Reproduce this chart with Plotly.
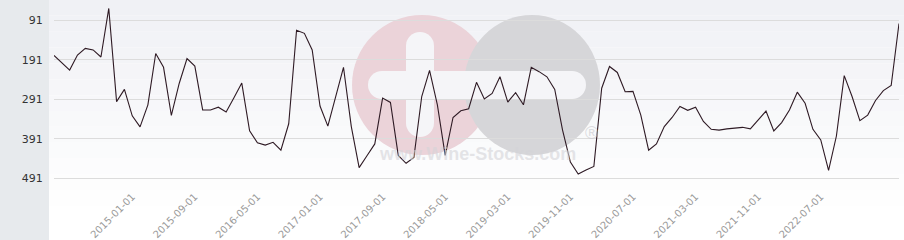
import plotly.graph_objects as go

# Rank values (lower is better), one per observation, left to right
ranks = [180, 198, 217, 179, 162, 166, 184, 61, 297, 266,
         333, 361, 305, 175, 210, 332, 251, 188, 207, 318,
         318, 311, 323, 287, 250, 371, 401, 407, 400, 420,
         353, 116, 124, 166, 308, 359, 286, 210, 360, 464,
         434, 404, 288, 299, 433, 453, 438, 284, 218, 305,
         433, 337, 320, 315, 248, 290, 276, 234, 298, 274,
         305, 210, 221, 234, 266, 369, 450, 480, 470, 461,
         263, 208, 223, 272, 271, 331, 420, 404, 360, 337,
         309, 319, 311, 347, 367, 369, 366, 364, 362, 366,
         342, 321, 371, 350, 318, 273, 301, 367, 394, 471,
         384, 231, 284, 345, 331, 294, 269, 256, 99]

tick_labels = ["2015-01-01", "2015-09-01", "2016-05-01", "2017-01-01",
               "2017-09-01", "2018-05-01", "2019-03-01", "2019-11-01",
               "2020-07-01", "2021-03-01", "2021-11-01", "2022-07-01"]
tick_positions = [10, 18, 26, 34, 42, 50, 58, 66, 74, 82, 90, 98]

y_ticks = [91, 191, 291, 391, 491]

idx = list(range(len(ranks)))

fig = go.Figure()
fig.add_trace(go.Scatter(x=idx, y=ranks, mode="lines",
                         line=dict(color="#2e1a24", width=1.1),
                         hoverinfo="skip", showlegend=False))

W, H = 904, 240
ml, mr, mt, mb = 54, 5, 0, 52
pw, ph = W - ml - mr, H - mt - mb

def px(x):
    return (x - ml) / pw

def py(y):
    return (H - mb - y) / ph

shapes = []
# gradient background of the chart area
n = 14
top, bot = 0, 222
c0 = (240, 241, 245)
for i in range(n):
    y0 = top + (bot - top) * i / n
    y1 = top + (bot - top) * (i + 1) / n
    t = i / (n - 1)
    c = tuple(int(round(c0[k] + (255 - c0[k]) * t)) for k in range(3))
    shapes.append(dict(type="rect", xref="paper", yref="paper",
                       x0=px(49), x1=px(W), y0=py(y1), y1=py(y0),
                       fillcolor="rgb(%d,%d,%d)" % c, line=dict(width=0), layer="below"))
# left grey panel
shapes.append(dict(type="rect", xref="paper", yref="paper",
                   x0=px(0), x1=px(49), y0=py(H), y1=py(0),
                   fillcolor="#e7eaed", line=dict(width=0), layer="below"))
# watermark
shapes.append(dict(type="circle", xref="paper", yref="paper",
                   x0=px(352), x1=px(492), y0=py(155), y1=py(15),
                   fillcolor="#ebd3d9", line=dict(width=0), layer="below"))
shapes.append(dict(type="circle", xref="paper", yref="paper",
                   x0=px(464), x1=px(600), y0=py(155), y1=py(15),
                   fillcolor="#d6d6d9", line=dict(width=0), layer="below"))
BAR = "#f5f5f8"
def pill(x0, x1, y0, y1):
    horiz = (x1 - x0) > (y1 - y0)
    r = min(x1 - x0, y1 - y0) / 2
    if horiz:
        shapes.append(dict(type="rect", xref="paper", yref="paper",
                           x0=px(x0 + r), x1=px(x1 - r), y0=py(y1), y1=py(y0),
                           fillcolor=BAR, line=dict(width=0), layer="below"))
        ends = [(x0, y0), (x1 - 2 * r, y0)]
    else:
        shapes.append(dict(type="rect", xref="paper", yref="paper",
                           x0=px(x0), x1=px(x1), y0=py(y1 - r), y1=py(y0 + r),
                           fillcolor=BAR, line=dict(width=0), layer="below"))
        ends = [(x0, y0), (x0, y1 - 2 * r)]
    for ex, ey in ends:
        shapes.append(dict(type="circle", xref="paper", yref="paper",
                           x0=px(ex), x1=px(ex + 2 * r), y0=py(ey + 2 * r), y1=py(ey),
                           fillcolor=BAR, line=dict(width=0), layer="below"))
pill(368, 586, 71, 99)
pill(406, 434, 32, 137)

fig.update_layout(
    width=W, height=H,
    margin=dict(l=ml, r=mr, t=mt, b=mb),
    paper_bgcolor="white",
    plot_bgcolor="rgba(0,0,0,0)",
    shapes=shapes,
    annotations=[
        dict(text="<b>www.Wine-Stocks.com</b>", xref="paper", yref="paper",
             x=px(477), y=py(166), showarrow=False,
             font=dict(family="Liberation Sans, Arial", size=18,
                       color="rgba(212,212,216,0.6)")),
        dict(text="®", xref="paper", yref="paper",
             x=px(591), y=py(145), showarrow=False,
             font=dict(family="Liberation Sans, Arial", size=18,
                       color="rgba(200,200,205,0.6)")),
    ],
    xaxis=dict(range=[0, 108], tickmode="array", tickvals=tick_positions,
               ticktext=tick_labels, tickangle=-45, showgrid=False,
               zeroline=False, showline=False, ticks="",
               tickfont=dict(family="DejaVu Sans", size=10, color="#9a9a9a")),
    yaxis=dict(range=[515.6, 39.6], tickmode="array", tickvals=y_ticks,
               showgrid=True, gridcolor="#dcdcdc", gridwidth=1,
               zeroline=False, showline=False,
               ticks="outside", ticklen=8, tickcolor="rgba(0,0,0,0)",
               tickfont=dict(family="DejaVu Sans", size=11, color="#333333")),
)

fig.write_html("out.html")
